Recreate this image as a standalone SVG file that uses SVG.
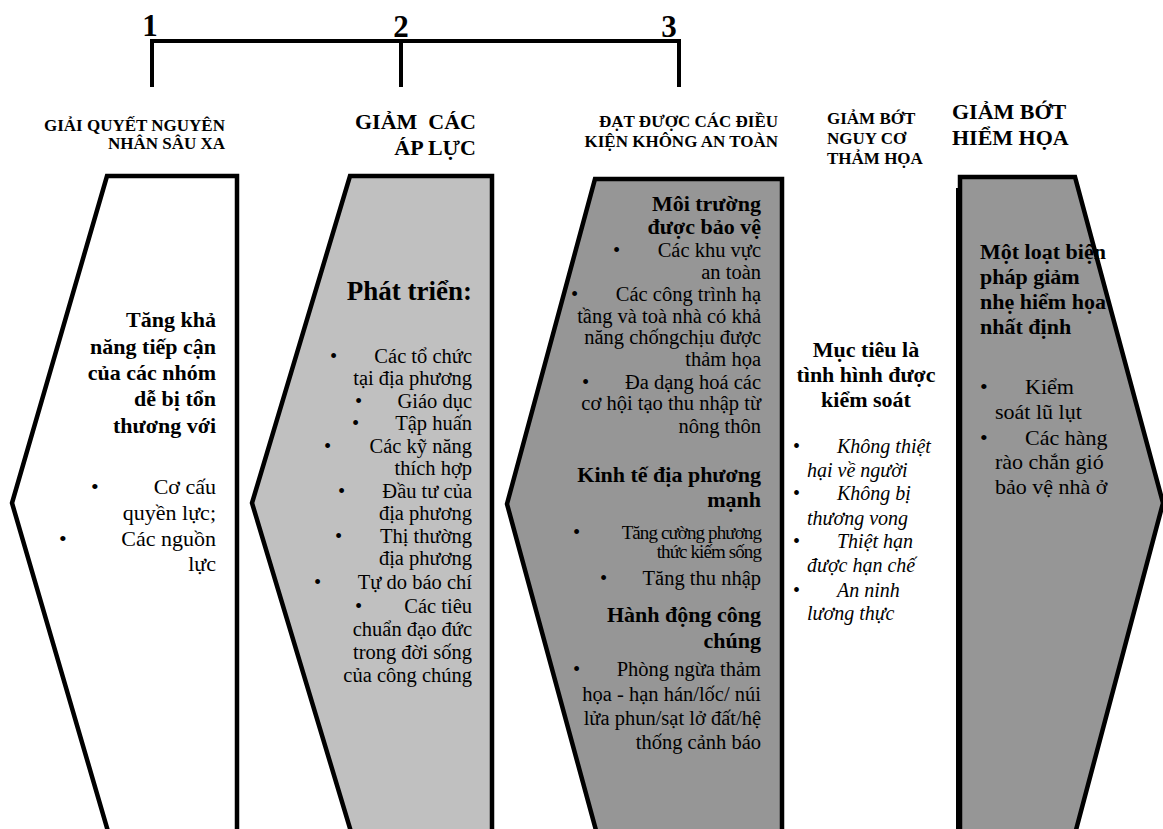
<svg xmlns="http://www.w3.org/2000/svg" width="1163" height="829" viewBox="0 0 1163 829">
<style>
text{font-family:"Liberation Serif","Times New Roman",serif;fill:#000}
.b{font-weight:bold}
.i{font-style:italic}
.e{text-anchor:end}
.m{text-anchor:middle}
.pre{white-space:pre}
.sh{stroke:#000;stroke-width:4.5;stroke-linejoin:miter}
.ln{fill:none;stroke:#000;stroke-width:4}
.f20{font-size:20.5px}
.f22{font-size:22px}
.c{font-size:19px;letter-spacing:-0.9px}
</style>
<rect width="1163" height="829" fill="#fff"/>

<g id="connectors">
  <path class="ln" d="M152,87 V41 H679 V87 M401,41 V87"/>
</g>

<g id="numbers">
  <text x="150" y="36" class="m b" font-size="31">1</text>
  <text x="401" y="37" class="m b" font-size="31">2</text>
  <text x="669" y="37" class="m b" font-size="31">3</text>
</g>

<g id="header-1">
  <text class="b e" font-size="17" x="225" y="131">GIẢI QUYẾT NGUYÊN</text>
  <text class="b e" font-size="17" x="225" y="149">NHÂN SÂU XA</text>
</g>
<g id="header-2">
  <text class="b e pre" font-size="22" x="476" y="129">GIẢM  CÁC</text>
  <text class="b e" font-size="22" x="476" y="155">ÁP LỰC</text>
</g>
<g id="header-3">
  <text class="b e" font-size="17" x="778" y="127">ĐẠT ĐƯỢC CÁC ĐIỀU</text>
  <text class="b e" font-size="17" x="778" y="147">KIỆN KHÔNG AN TOÀN</text>
</g>
<g id="header-4">
  <text class="b" font-size="17" x="827" y="124">GIẢM BỚT</text>
  <text class="b" font-size="17" x="827" y="144">NGUY CƠ</text>
  <text class="b" font-size="17" x="827" y="164">THẢM HỌA</text>
</g>
<g id="header-5">
  <text class="b" font-size="22" x="952" y="119">GIẢM BỚT</text>
  <text class="b" font-size="22" x="952" y="145">HIỂM HỌA</text>
</g>

<g id="node-1">
  <polygon class="sh" fill="#fff" points="107,176 237,176 237,845 112,845 12,503"/>
  <g class="f22">
    <text class="b e" x="216" y="327">Tăng khả</text>
    <text class="b e" x="216" y="354">năng tiếp cận</text>
    <text class="b e" x="216" y="380">của các nhóm</text>
    <text class="b e" x="216" y="406">dễ bị tổn</text>
    <text class="b e" x="216" y="433">thương với</text>
    <text x="91" y="494">•</text>
    <text class="e" x="216" y="494">Cơ cấu</text>
    <text class="e" x="216" y="520">quyền lực;</text>
    <text x="59" y="546">•</text>
    <text class="e" x="216" y="546">Các nguồn</text>
    <text class="e" x="216" y="571">lực</text>
  </g>
</g>

<g id="node-2">
  <polygon class="sh" fill="#c0c0c0" points="350,176 492,176 492,845 355,845 252,503"/>
  <text class="b e" font-size="27" x="472" y="300">Phát triển:</text>
  <g class="f20">
    <text x="330" y="363">•</text>
    <text class="e" x="472" y="363">Các tổ chức</text>
    <text class="e" x="472" y="385">tại địa phương</text>
    <text x="355" y="408">•</text>
    <text class="e" x="472" y="408">Giáo dục</text>
    <text x="352" y="430">•</text>
    <text class="e" x="472" y="430">Tập huấn</text>
    <text x="324" y="453">•</text>
    <text class="e" x="472" y="453">Các kỹ năng</text>
    <text class="e" x="472" y="475">thích hợp</text>
    <text x="338" y="498">•</text>
    <text class="e" x="472" y="498">Đầu tư của</text>
    <text class="e" x="472" y="520">địa phương</text>
    <text x="335" y="543">•</text>
    <text class="e" x="472" y="543">Thị thường</text>
    <text class="e" x="472" y="565">địa phương</text>
    <text x="314" y="589">•</text>
    <text class="e" x="472" y="589">Tự do báo chí</text>
    <text x="355" y="613">•</text>
    <text class="e" x="472" y="613">Các tiêu</text>
    <text class="e" x="472" y="636">chuẩn đạo đức</text>
    <text class="e" x="472" y="659">trong đời sống</text>
    <text class="e" x="472" y="682">của công chúng</text>
  </g>
</g>

<g id="node-3">
  <polygon class="sh" fill="#969696" points="595,179 782,179 782,845 600,845 507,504"/>
  <g class="f20">
    <text class="b e f22" x="761" y="211">Môi trường</text>
    <text class="b e f22" x="761" y="234">được bảo vệ</text>
    <text x="613" y="257">•</text>
    <text class="e" x="761" y="257">Các khu vực</text>
    <text class="e" x="761" y="279">an toàn</text>
    <text x="571" y="301">•</text>
    <text class="e" x="761" y="301">Các công trình hạ</text>
    <text class="e" x="761" y="323">tầng và toà nhà có khả</text>
    <text class="e" x="761" y="344">năng chốngchịu được</text>
    <text class="e" x="761" y="366">thảm họa</text>
    <text x="582" y="389">•</text>
    <text class="e" x="761" y="389">Đa dạng hoá các</text>
    <text class="e" x="761" y="410">cơ hội tạo thu nhập từ</text>
    <text class="e" x="761" y="433">nông thôn</text>
    <text class="b e f22" x="761" y="482">Kinh tế địa phương</text>
    <text class="b e f22" x="761" y="507">mạnh</text>
    <text x="573" y="539">•</text>
    <text class="e c" x="761" y="539">Tăng cường phương</text>
    <text class="e c" x="761" y="558">thức kiếm sống</text>
    <text x="600" y="585">•</text>
    <text class="e" x="761" y="585">Tăng thu nhập</text>
    <text class="b e f22" x="761" y="622">Hành động công</text>
    <text class="b e f22" x="761" y="648">chúng</text>
    <text x="573" y="676">•</text>
    <text class="e" x="761" y="676">Phòng ngừa thảm</text>
    <text class="e" x="761" y="701">họa - hạn hán/lốc/ núi</text>
    <text class="e" x="761" y="725">lửa phun/sạt lở đất/hệ</text>
    <text class="e" x="761" y="749">thống cảnh báo</text>
  </g>
</g>

<g id="node-4">
  <text class="b m f22" x="866" y="357">Mục tiêu là</text>
  <text class="b m f22" x="866" y="382">tình hình được</text>
  <text class="b m f22" x="866" y="407">kiểm soát</text>
  <g font-size="20">
    <text x="793" y="453">•</text>
    <text class="i" x="837" y="453">Không thiệt</text>
    <text class="i" x="807" y="477">hại về người</text>
    <text x="793" y="500">•</text>
    <text class="i" x="837" y="500">Không bị</text>
    <text class="i" x="807" y="525">thương vong</text>
    <text x="793" y="548">•</text>
    <text class="i" x="837" y="548">Thiệt hạn</text>
    <text class="i" x="807" y="572">được hạn chế</text>
    <text x="793" y="597">•</text>
    <text class="i" x="837" y="597">An ninh</text>
    <text class="i" x="807" y="620">lương thực</text>
  </g>
</g>

<g id="node-5">
  <polygon fill="#969696" points="960,177 1075,177 1163,503 1072,845 960,845"/>
  <g class="f22">
    <text class="b" x="980" y="259">Một loạt biện</text>
    <text class="b" x="980" y="284">pháp giảm</text>
    <text class="b" x="980" y="309">nhẹ hiểm họa</text>
    <text class="b" x="980" y="334">nhất định</text>
    <text x="980" y="394">•</text>
    <text x="1025" y="394">Kiểm</text>
    <text x="995" y="419">soát lũ lụt</text>
    <text x="980" y="445">•</text>
    <text x="1025" y="445">Các hàng</text>
    <text x="995" y="469">rào chắn gió</text>
    <text x="995" y="494">bảo vệ nhà ở</text>
  </g>
  <polygon class="sh" fill="none" points="960,177 1075,177 1163,503 1072,845 960,845"/>
  <line class="ln" x1="958" y1="188" x2="958" y2="845"/>
</g>
</svg>
